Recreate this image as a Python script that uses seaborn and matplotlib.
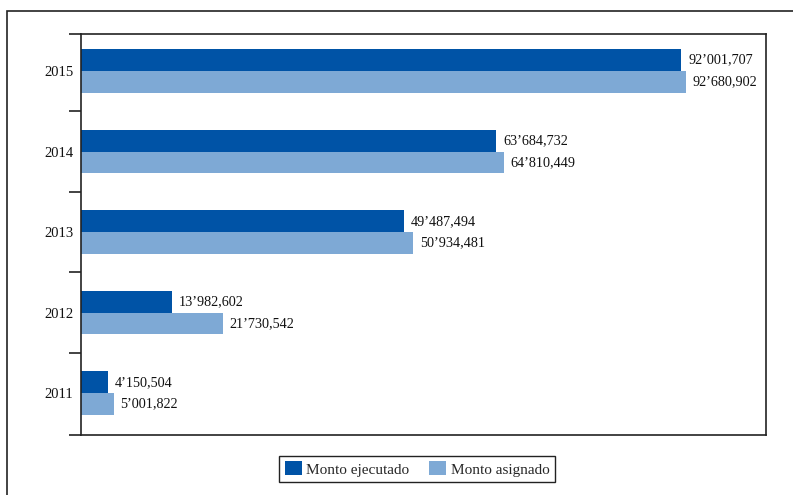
"""
Horizontal grouped bar chart: executed vs assigned amounts per year.
"""

import pandas as pd
import seaborn as sns
import matplotlib.pyplot as plt
from matplotlib.patches import Rectangle
from matplotlib.ticker import FixedLocator

years = ["2015", "2014", "2013", "2012", "2011"]
monto_ejecutado = [92001707, 63684732, 49487494, 13982602, 4150504]
monto_asignado = [92680902, 64810449, 50934481, 21730542, 5001822]
series_names = ["Monto ejecutado", "Monto asignado"]

DARK = "#0053a6"
LIGHT = "#7ea9d5"


def fmt_amount(v):
    # 92,001,707 -> 92’001,707
    return f"{v:,}".replace(",", "\u2019", 1)


df = pd.DataFrame({
    "year": years * 2,
    "monto": monto_ejecutado + monto_asignado,
    "serie": [series_names[0]] * len(years) + [series_names[1]] * len(years),
})

sns.set_theme(style="white")
plt.rcParams["font.family"] = ["Liberation Serif", "DejaVu Serif"]

fig = plt.figure(figsize=(7.93, 4.95), dpi=100)
ax = fig.add_axes([81 / 793, 1 - 435 / 495, 685 / 793, 401 / 495])

sns.barplot(data=df, y="year", x="monto", hue="serie", order=years,
            hue_order=series_names, palette=[DARK, LIGHT], orient="h",
            width=0.54, saturation=1, linewidth=0, ax=ax)

for container, values in zip(ax.containers, [monto_ejecutado, monto_asignado]):
    ax.bar_label(container, labels=[fmt_amount(v) for v in values],
                 padding=5, fontsize=10.2, color="#111111")

ax.set_xlim(0, 105e6)
ax.set_ylim(4.52, -0.46)
ax.set_xticks([])
ax.set_xlabel("")
ax.set_ylabel("")

# year labels without ticks; ticks drawn at the group boundaries
ax.tick_params(axis="y", which="major", length=0, pad=5.5, labelsize=10.5,
               labelcolor="#111111")
ax.yaxis.set_minor_locator(FixedLocator([-0.46, 0.5, 1.5, 2.5, 3.5, 4.52]))
ax.tick_params(axis="y", which="minor", left=True, length=9, width=1.2,
               color="#222222", direction="out")

for spine in ax.spines.values():
    spine.set_visible(True)
    spine.set_color("#222222")
    spine.set_linewidth(1.2)

handles, labels = ax.get_legend_handles_labels()
ax.get_legend().remove()
fig.legend(handles, labels, loc="center", ncol=2,
           bbox_to_anchor=(417 / 793, 1 - 469 / 495), fontsize=11,
           frameon=True, fancybox=False, edgecolor="#222222", framealpha=1,
           handlelength=1.1, handleheight=1.0, handletextpad=0.3,
           columnspacing=1.3, borderpad=0.35)

# outer frame, cut by the right and bottom edges of the picture
fig.patches.append(Rectangle((7 / 793, -0.2), 1.5, 0.2 + 1 - 11 / 495,
                             transform=fig.transFigure, fill=False,
                             edgecolor="#222222", linewidth=1.2))

fig.savefig("out.png", dpi=100)
plt.close(fig)
